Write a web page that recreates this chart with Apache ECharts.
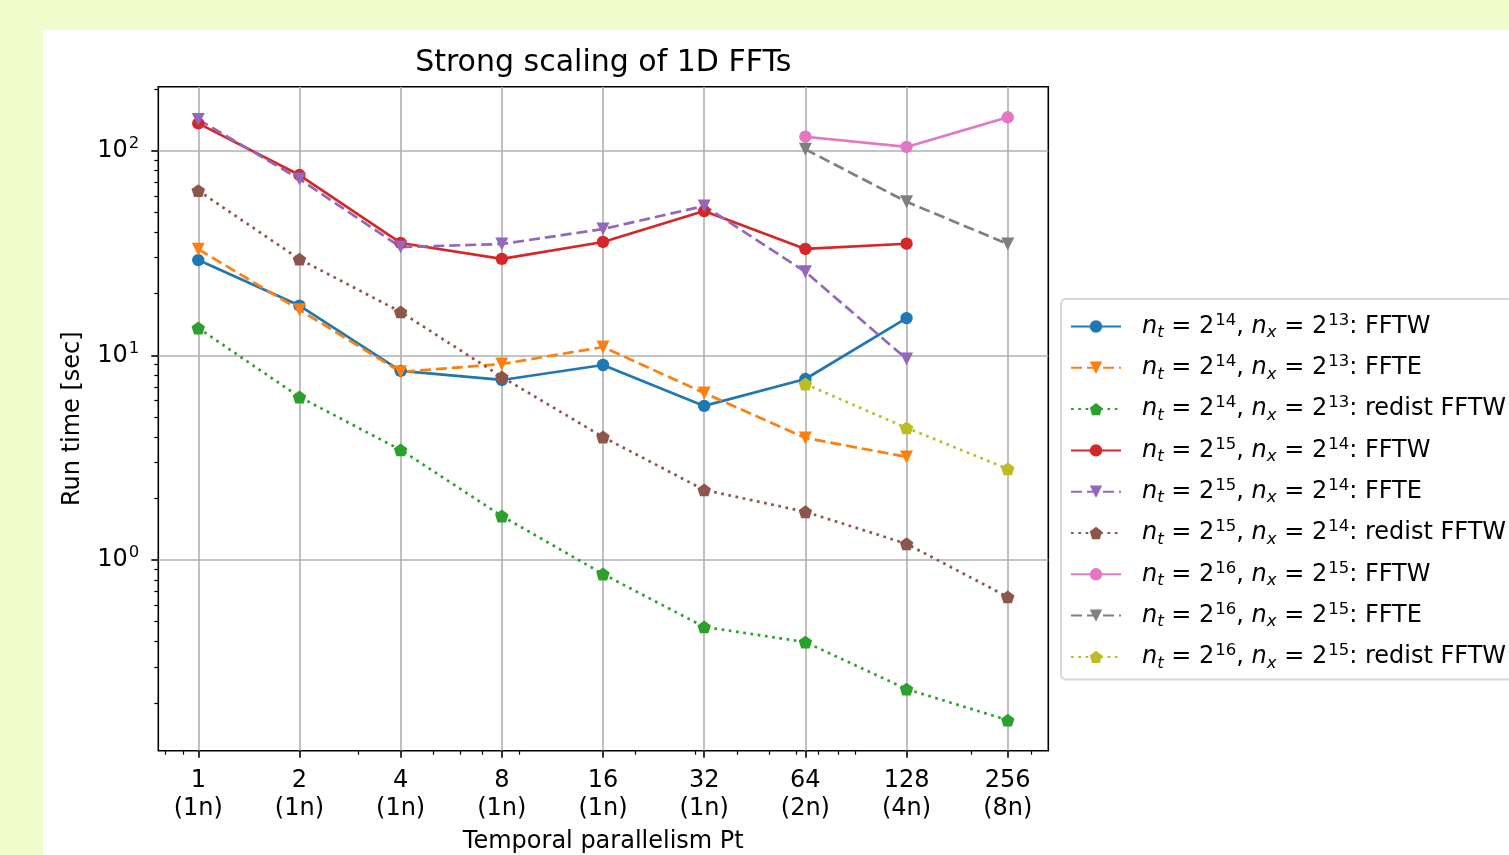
<!DOCTYPE html>
<html><head><meta charset="utf-8">
<script src="https://cdn.jsdelivr.net/npm/echarts@6/dist/echarts.min.js"></script>
<style>
html,body{margin:0;padding:0;background:#f0fccc;overflow:hidden;}
#panel{position:absolute;left:43px;top:30px;width:1466px;height:825px;background:#ffffff;}
#chart{position:absolute;left:0;top:0;width:1509px;height:855px;}
</style></head><body>
<div id="panel"></div><div id="chart"></div>
<script>
// ---- data ----
const ptValues = [1, 2, 4, 8, 16, 32, 64, 128, 256];
const nodeLabels = ['1n', '1n', '1n', '1n', '1n', '1n', '2n', '4n', '8n'];
const yTickValues = [1, 10, 100];
const yTickExps = ['0', '1', '2'];
const xMinorTicks = [0.8, 0.9, 3, 5, 6, 7, 9, 20, 30, 40, 50, 60, 70, 80, 90, 200, 300];
const yMinorTicks = [0.2, 0.3, 0.4, 0.5, 0.6, 0.7, 0.8, 0.9, 2, 3, 4, 5, 6, 7, 8, 9, 20, 30, 40, 50, 60, 70, 80, 90, 200];

const seriesNt = [14, 14, 14, 15, 15, 15, 16, 16, 16];
const seriesNx = [13, 13, 13, 14, 14, 14, 15, 15, 15];
const seriesLib = ['FFTW', 'FFTE', 'redist FFTW', 'FFTW', 'FFTE', 'redist FFTW', 'FFTW', 'FFTE', 'redist FFTW'];

const fftw14   = [29.2, 17.5, 8.39, 7.58, 8.97, 5.66, 7.66, 15.2, null];
const ffte14   = [33.0, 16.7, 8.3, 9.07, 10.98, 6.55, 3.95, 3.19, null];
const redist14 = [13.6, 6.26, 3.45, 1.64, 0.854, 0.471, 0.397, 0.234, 0.165];
const fftw15   = [136, 76.0, 35.4, 29.6, 35.8, 50.7, 33.1, 35.1, null];
const ffte15   = [142, 72.7, 33.8, 35.0, 41.4, 53.7, 25.6, 9.6, null];
const redist15 = [63.8, 29.5, 16.3, 7.84, 3.99, 2.20, 1.72, 1.20, 0.66];
const fftw16   = [null, null, null, null, null, null, 117, 104.3, 145.6];
const ffte16   = [null, null, null, null, null, null, 101.6, 56.3, 35.0];
const redist16 = [null, null, null, null, null, null, 7.24, 4.42, 2.79];

const seriesValues = [fftw14, ffte14, redist14, fftw15, ffte15, redist15, fftw16, ffte16, redist16];

// ---- styles ----
const colors = ['#1f77b4', '#ff7f0e', '#2ca02c', '#d62728', '#9467bd', '#8c564b', '#e377c2', '#7f7f7f', '#bcbd22'];
const LW = 2.7;
const PENTAGON = 'path://M0,-50 L47.55,-15.45 L29.39,40.45 L-29.39,40.45 L-47.55,-15.45 Z';
function styleFor(lib) {
  if (lib === 'FFTW') return {symbol: 'circle', size: 12.4, rotate: 0, dash: 'solid'};
  if (lib === 'FFTE') return {symbol: 'triangle', size: 13, rotate: 180, dash: [11, 5]};
  return {symbol: PENTAGON, size: 13.5, rotate: 0, dash: [2.7, 4.6]};
}
const FONT = 'DejaVu Sans';

const xMin = 0.7605, xMax = 338;
const yMin = 0.117, yMax = 205.4;

function seriesName(i) {
  return 'n_t = 2^' + seriesNt[i] + ', n_x = 2^' + seriesNx[i] + ': ' + seriesLib[i];
}
const names = seriesValues.map((_, i) => seriesName(i));

const series = seriesValues.map((vals, i) => {
  const st = styleFor(seriesLib[i]);
  return {
    name: names[i],
    type: 'line',
    xAxisIndex: 0, yAxisIndex: 0,
    data: ptValues.map((x, k) => [x, vals[k]]).filter(d => d[1] != null),
    symbol: st.symbol,
    symbolSize: st.size,
    symbolRotate: st.rotate,
    symbolKeepAspect: true,
    showSymbol: true,
    itemStyle: {color: colors[i], borderWidth: 0},
    lineStyle: {color: colors[i], width: LW, type: st.dash, cap: 'butt'},
    emphasis: {disabled: true},
    animation: false,
    z: 3
  };
});

function near(a, b) { return Math.abs(a - b) < 1e-6 * Math.max(1, Math.abs(b)); }

const chart = echarts.init(document.getElementById('chart'), null, {renderer: 'canvas'});
chart.setOption({
  backgroundColor: 'transparent',
  animation: false,
  title: {
    text: 'Strong scaling of 1D FFTs',
    left: 603.3, top: 48.5, textAlign: 'center', padding: 0,
    textStyle: {fontFamily: FONT, fontSize: 30, fontWeight: 'normal', color: '#000', lineHeight: 29}
  },
  grid: {
    left: 158.3, top: 86.7, width: 890, height: 664,
    containLabel: false, outerBoundsMode: 'none',
    show: true, borderColor: '#000', borderWidth: 1.6, backgroundColor: 'transparent'
  },
  xAxis: [{
    type: 'log', logBase: 10, min: xMin, max: xMax, position: 'bottom',
    name: 'Temporal parallelism Pt', nameLocation: 'middle', nameGap: 79,
    nameTextStyle: {fontFamily: FONT, fontSize: 24, color: '#000', lineHeight: 24},
    axisLine: {show: false},
    axisTick: {show: true, customValues: ptValues, length: 7, lineStyle: {color: '#000', width: 1.6}},
    minorTick: {show: false},
    axisLabel: {
      show: true, customValues: ptValues, margin: 15.4,
      fontFamily: FONT, fontSize: 24, color: '#000', lineHeight: 28.5,
      formatter: function (v) {
        for (let i = 0; i < ptValues.length; i++) if (near(v, ptValues[i])) return ptValues[i] + '\n(' + nodeLabels[i] + ')';
        return '';
      }
    },
    splitLine: {show: true, lineStyle: {color: '#b0b0b0', width: 1.6}}
  }, {
    type: 'log', logBase: 10, min: xMin, max: xMax, position: 'bottom',
    axisLine: {show: false},
    axisTick: {show: true, customValues: xMinorTicks, length: 4, lineStyle: {color: '#000', width: 1.2}},
    axisLabel: {show: false},
    splitLine: {show: false}
  }],
  yAxis: [{
    type: 'log', logBase: 10, min: yMin, max: yMax, position: 'left',
    name: 'Run time [sec]', nameLocation: 'middle', nameGap: 74,
    nameTextStyle: {fontFamily: FONT, fontSize: 24, color: '#000', lineHeight: 24},
    axisLine: {show: false},
    axisTick: {show: true, customValues: yTickValues, length: 7, lineStyle: {color: '#000', width: 1.6}},
    minorTick: {show: false},
    axisLabel: {
      show: true, customValues: yTickValues, margin: 19,
      fontFamily: FONT, fontSize: 24, color: '#000',
      formatter: function (v) {
        for (let i = 0; i < yTickValues.length; i++) if (near(v, yTickValues[i])) return '{m|10}{s|' + yTickExps[i] + '}';
        return '';
      },
      rich: {
        m: {fontFamily: FONT, fontSize: 24, color: '#000', lineHeight: 30},
        s: {fontFamily: FONT, fontSize: 16.5, color: '#000', lineHeight: 30, padding: [0, 0, 14, 1]}
      }
    },
    splitLine: {show: true, lineStyle: {color: '#b0b0b0', width: 1.6}}
  }, {
    type: 'log', logBase: 10, min: yMin, max: yMax, position: 'left',
    axisLine: {show: false},
    axisTick: {show: true, customValues: yMinorTicks, length: 4, lineStyle: {color: '#000', width: 1.2}},
    axisLabel: {show: false},
    splitLine: {show: false}
  }],
  legend: {
    show: true, orient: 'vertical', left: 1061, top: 299,
    padding: [12.5, 20, 7.5, 9],
    itemWidth: 50, itemHeight: 15.5, itemGap: 11.3,
    backgroundColor: '#ffffff', borderColor: '#d6d6d6', borderWidth: 2, borderRadius: 5,
    selectedMode: false,
    data: names,
    formatter: function (name) {
      const i = names.indexOf(name);
      return '{it|n}{sb|t}{m| = 2}{sp|' + seriesNt[i] + '}{m|, }{it|n}{sb|x}{m| = 2}{sp|' + seriesNx[i] + '}{m|: ' + seriesLib[i] + '}';
    },
    textStyle: {
      fontFamily: FONT, fontSize: 24, color: '#000', lineHeight: 30, padding: [0, 0, 0, 16],
      rich: {
        m: {fontFamily: FONT, fontSize: 24, color: '#000', lineHeight: 30},
        it: {fontFamily: FONT, fontSize: 24, fontStyle: 'italic', color: '#000', lineHeight: 30},
        sb: {fontFamily: FONT, fontSize: 16.5, fontStyle: 'italic', color: '#000', lineHeight: 30, padding: [13, 0, 0, 0]},
        sp: {fontFamily: FONT, fontSize: 16.5, color: '#000', lineHeight: 30, padding: [0, 0, 12, 1]}
      }
    }
  },
  series: series
});
</script>
</body></html>
